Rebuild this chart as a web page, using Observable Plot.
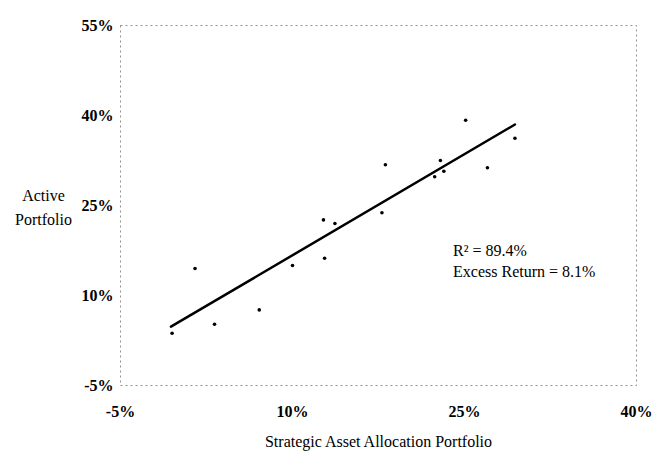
<!DOCTYPE html>
<html><head><meta charset="utf-8">
<script src="https://cdn.jsdelivr.net/npm/d3@7"></script>
<script src="https://cdn.jsdelivr.net/npm/@observablehq/plot@0.6"></script>
<style>
html,body{margin:0;padding:0;background:#fff;}
#chart svg{display:block;}
g[aria-label$="tick label"]{font-weight:bold;}
</style></head><body><div id="chart"></div>
<script>
// Strategic Asset Allocation Portfolio return (%) vs Active Portfolio return (%)
const strategicReturn = [-0.5, 1.5, 3.2, 7.1, 10.0, 12.7, 13.7, 12.8, 18.1, 17.8, 22.9, 23.2, 22.4, 25.1, 27.0, 29.4];
const activeReturn    = [ 3.7, 14.5, 5.2, 7.6, 15.0, 22.6, 22.0, 16.2, 31.8, 23.8, 32.5, 30.7, 29.8, 39.2, 31.3, 36.2];
// fitted trend line end points
const trendX = [-0.6, 29.4];
const trendY = [4.8, 38.5];
const xTicks = [-5, 10, 25, 40];
const yTicks = [-5, 10, 25, 40, 55];
const xTitle = "Strategic Asset Allocation Portfolio";
const yTitle = "Active\nPortfolio";
const statLabels = ["R² = 89.4%", "Excess Return = 8.1%"];

const points = strategicReturn.map((x, i) => ({x, y: activeReturn[i]}));
const trend = trendX.map((x, i) => ({x, y: trendY[i]}));

const chart = Plot.plot({
  width: 652, height: 468,
  marginLeft: 120, marginRight: 16, marginTop: 25, marginBottom: 83,
  style: {fontFamily: "Liberation Serif", fontSize: "16px", color: "#000", background: "#fff"},
  x: {domain: [-5, 40]},
  y: {domain: [-5, 55]},
  marks: [
    Plot.frame({stroke: "#777", strokeDasharray: "2,3", strokeOpacity: 0.8}),
    Plot.axisX(xTicks, {tickSize: 0, tickPadding: 20, tickFormat: d => d + "%", label: null}),
    Plot.axisY(yTicks, {tickSize: 0, tickPadding: 7, tickFormat: d => d + "%", label: null}),
    Plot.line(trend, {x: "x", y: "y", stroke: "#000", strokeWidth: 2.5}),
    Plot.dot(points, {x: "x", y: "y", r: 1.8, fill: "#000"}),
    Plot.text([yTitle], {frameAnchor: "left", y: () => 25, dx: -77, textAnchor: "middle", lineHeight: 1.5}),
    Plot.text([xTitle], {frameAnchor: "bottom", dy: 61, textAnchor: "middle"}),
    Plot.text([statLabels.join("\n")], {x: () => 24, y: () => 16, textAnchor: "start", lineHeight: 1.3})
  ]
});
document.getElementById("chart").appendChild(chart);
</script></body></html>
